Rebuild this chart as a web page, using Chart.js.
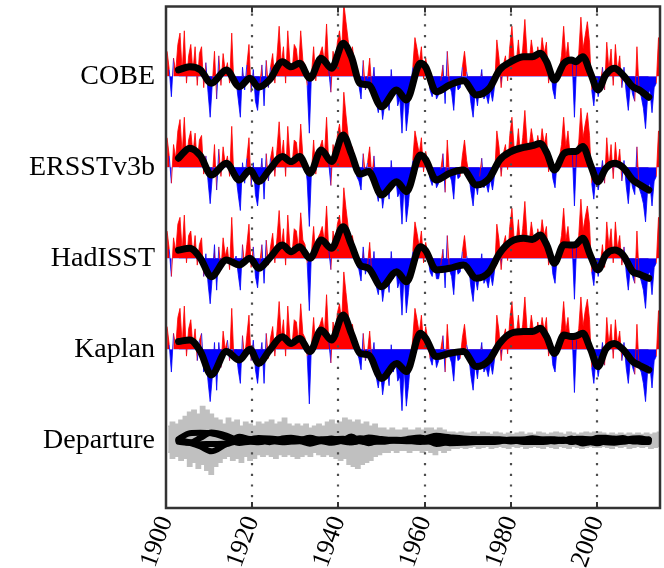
<!DOCTYPE html>
<html><head><meta charset="utf-8">
<script src="https://cdn.jsdelivr.net/npm/chart.js@4/dist/chart.umd.min.js"></script>
<style>html,body{margin:0;padding:0;background:#fff}#wrap{width:664px;height:568px;position:relative}</style>
</head><body><div id="wrap"><canvas id="c" width="664" height="568"></canvas></div>
<script>
// ---------------- DATA ----------------
const rowNames = ['COBE', 'ERSSTv3b', 'HadISST', 'Kaplan', 'Departure'];
const rowOffsets = [4, 3, 2, 1, 0];
const xTicks = [1900, 1920, 1940, 1960, 1980, 2000];
const firstYear = 1900; // half-year samples start here

// PDO index, two values per year (first half, second half), 1900-2014
const cobe = [
 1.1,0.3, -0.9,0.8, 0.2,1.4, 1.9,0.2, 2.0,-0.3,
 0.9,1.4, 0.2,1.3, -0.4,1.0, 1.3,-0.5, 0.6,-0.7,
 -1.8,-0.3, 1.1,-1.0, 0.9,-0.4, 1.0,0.2, 0.6,-0.3,
 1.9,-0.4, -0.2,-1.0, -1.8,0.4, -0.6,0.5, 1.4,-0.7,
 0.3,-1.1, -1.5,-0.4, 0.5,-1.3, 0.7,-0.5, 0.4,1.0,
 -0.3,0.9, 2.2,0.5, 1.3,-0.3, 2.0,0.6, 0.2,1.4,
 1.2,0.3, 2.0,0.7, 0.5,-0.4, -2.5,0.1, 1.3,-0.2,
 0.8,1.0, 1.3,0.6, 2.3,0.3, -0.7,1.1, 0.4,1.5,
 2.0,1.1, 3.2,2.4, 1.6,0.9, 1.3,0.5, 0.3,-0.4,
 -1.0,0.7, -0.6,-0.1, 0.8,-0.6, 0.4,-1.1, -1.6,-0.8,
 -1.9,-1.2, -0.6,-1.5, 0.3,-0.9, -0.2,-1.3, -1.0,-2.5,
 -0.6,-2.4, -1.5,-0.5, 0.4,1.7, 1.2,0.6, 1.3,-0.1,
 0.8,0.2, -0.6,-0.9, -0.3,-1.0, -0.8,-0.2, 0.5,-1.2,
 1.1,-0.4, -0.7,-1.5, -0.1,-0.6, -0.5,0.4, 1.1,0.2,
 -0.3,-1.2, -1.8,-0.6, -1.3,-0.4, 0.3,-1.0, -0.8,-1.2,
 -0.6,-1.1, -0.4,1.6, 0.8,-0.5, 0.5,0.9, -0.2,1.3,
 2.2,0.8, 0.6,1.6, 0.4,1.2, 2.5,1.0, 0.6,1.6,
 0.9,0.4, 1.3,0.7, 1.7,1.0, 1.5,-0.3, 0.4,-0.6,
 -1.0,0.2, 0.3,0.9, 2.2,0.8, 1.5,0.4, 0.6,-1.8,
 0.5,1.0, 2.6,1.2, 1.8,2.4, 1.5,-0.6, -1.3,-0.2,
 -0.9,-0.4, 0.4,-0.6, 1.5,0.3, 1.2,-0.4, 1.4,0.2,
 0.9,-0.5, 0.4,-0.7, -1.5,-0.3, -0.8,-1.1, 1.3,-0.6,
 -0.9,-1.4, -2.3,-0.8, -0.6,-1.6, -0.5,-0.3, 1.7,1.2
];
const ersst = [
 1.3,0.5, -0.7,1.0, 0.4,1.6, 2.1,0.6, 2.2,0.3,
 1.2,1.6, 0.6,1.5, 0.2,1.2, 1.4,-0.3, 0.5,-0.6,
 -1.6,-0.4, 1.0,-1.0, 0.8,-0.4, 0.9,0.1, 0.5,-0.4,
 1.8,-0.5, -0.4,-1.2, -1.9,0.2, -0.7,0.4, 1.3,-0.8,
 0.2,-1.2, -1.7,-0.6, 0.4,-1.4, 0.6,-0.6, 0.4,0.9,
 -0.4,0.8, 2.0,0.4, 1.2,-0.4, 1.8,0.4, 0.1,1.2,
 1.1,0.2, 1.9,0.5, 0.3,-0.6, -2.6,-0.2, 1.2,-0.3,
 0.7,0.9, 1.2,0.5, 2.2,0.2, -0.8,1.0, 0.3,1.4,
 1.9,1.0, 3.3,2.3, 1.4,0.6, 0.9,0.3, -0.4,-0.6,
 -1.0,0.6, -0.3,0.2, 0.9,-0.4, 0.5,-1.0, -1.5,-0.7,
 -1.8,-1.1, -0.5,-1.4, 0.3,-0.9, -0.3,-1.3, -1.1,-2.5,
 -0.7,-2.4, -1.6,-0.5, 0.3,1.6, 1.1,0.6, 1.3,-0.2,
 0.7,0.1, -0.5,-0.8, -0.2,-0.9, -0.7,-0.1, 0.6,-1.1,
 1.2,-0.3, -0.6,-1.4, 0.0,-0.5, -0.4,0.5, 1.2,0.3,
 -0.3,-1.1, -1.7,-0.6, -1.2,-0.4, 0.4,-0.9, -0.7,-1.1,
 -0.5,-1.0, -0.3,1.6, 0.9,-0.4, 0.6,1.0, -0.1,1.4,
 2.2,0.9, 0.7,1.7, 0.5,1.3, 2.5,1.1, 0.9,1.7,
 1.1,0.6, 1.4,0.8, 1.7,1.0, 1.5,-0.2, 0.4,-0.5,
 -0.9,0.3, 0.4,1.0, 2.2,0.9, 1.6,0.5, 0.7,-1.7,
 0.6,1.1, 2.6,1.3, 1.9,2.4, 1.4,-0.7, -1.4,-0.3,
 -1.0,-0.5, 0.3,-0.7, 1.3,0.0, 1.0,-0.5, 1.1,0.0,
 0.8,-0.6, 0.3,-0.8, -1.6,-0.4, -0.9,-1.2, 0.9,-0.9,
 -1.2,-1.6, -2.4,-0.9, -0.7,-1.7, -0.6,-0.4, 1.6,1.1
];
const hadisst = [
 1.2,0.4, -0.8,0.9, 0.3,1.5, 1.8,0.3, 1.9,-0.2,
 1.0,1.2, 0.1,1.0, -0.3,0.6, 0.9,-0.8, 0.2,-1.1,
 -2.0,-0.8, 0.6,-1.4, 0.5,-0.5, 0.9,0.1, 0.5,-0.5,
 1.8,-0.3, 0.1,-0.7, -1.4,0.6, -0.3,0.6, 1.5,-0.4,
 0.5,-0.8, -1.3,-0.2, 0.6,-1.1, 0.8,-0.3, 0.5,1.1,
 -0.2,0.9, 2.1,0.5, 1.3,-0.3, 1.9,0.5, 0.2,1.3,
 1.2,0.4, 2.0,0.8, 0.6,-0.2, -2.3,0.3, 1.4,0.0,
 0.9,1.1, 1.4,0.7, 2.3,0.4, -0.5,1.2, 0.5,1.5,
 1.9,1.0, 3.1,2.2, 1.4,0.6, 1.0,0.3, -0.3,-0.5,
 -1.0,0.5, -0.7,-0.3, 0.7,-0.7, 0.3,-1.2, -1.6,-0.8,
 -1.9,-1.2, -0.6,-1.5, 0.3,-0.9, -0.2,-1.3, -1.0,-2.5,
 -0.6,-2.4, -1.5,-0.5, 0.3,1.6, 1.1,0.5, 1.2,-0.2,
 0.7,0.1, -0.6,-0.8, -0.2,-0.9, -0.9,-0.3, 0.4,-1.3,
 1.0,-0.5, -0.8,-1.6, -0.2,-0.7, -0.6,0.3, 1.0,0.1,
 -0.4,-1.3, -1.9,-0.8, -1.4,-0.6, 0.2,-1.1, -0.9,-1.3,
 -0.7,-1.2, -0.5,1.5, 0.8,-0.5, 0.6,1.0, -0.1,1.4,
 2.2,0.9, 0.7,1.7, 0.5,1.3, 2.5,1.0, 0.7,1.6,
 0.9,0.5, 1.3,0.8, 1.7,1.0, 1.4,-0.3, 0.3,-0.7,
 -1.1,0.1, 0.4,1.0, 2.2,0.8, 1.4,0.4, 0.5,-1.8,
 0.5,1.0, 2.6,1.2, 1.8,2.3, 1.5,-0.6, -1.2,-0.1,
 -0.8,-0.3, 0.6,-0.4, 1.6,0.5, 1.3,-0.2, 1.6,0.4,
 1.0,-0.3, 0.5,-0.6, -1.4,-0.3, -0.8,-1.1, 1.2,-0.7,
 -1.0,-1.4, -2.2,-0.7, -0.6,-1.6, -0.4,-0.2, 1.8,1.2
];
const kaplan = [
 1.0,0.2, -1.0,0.7, 0.1,1.4, 1.8,0.2, 1.9,-0.3,
 0.9,1.3, 0.1,0.9, -0.5,0.4, 0.7,-1.0, -0.3,-1.4,
 -2.3,-1.2, 0.3,-1.8, 0.3,-0.8, 0.8,0.0, 0.4,-0.5,
 1.8,-0.4, 0.0,-0.9, -1.5,0.6, -0.4,0.6, 1.5,-0.5,
 0.4,-0.9, -1.5,-0.5, 0.3,-1.5, 0.7,-0.4, 0.5,1.0,
 -0.3,0.8, 2.1,0.5, 1.3,-0.3, 1.9,0.5, 0.2,1.3,
 1.2,0.3, 2.0,0.7, 0.5,-0.3, -2.4,0.2, 1.4,0.0,
 0.9,1.1, 1.4,0.7, 2.4,0.4, -0.6,1.2, 0.5,1.6,
 2.0,1.2, 3.4,2.5, 1.6,0.8, 1.1,0.4, -0.1,-0.4,
 -0.9,0.7, -0.5,-0.1, 0.8,-0.5, 0.3,-1.2, -1.7,-0.9,
 -2.0,-1.3, -0.7,-1.6, 0.2,-1.0, -0.3,-1.4, -1.2,-2.7,
 -0.8,-2.5, -1.6,-0.5, 0.5,1.8, 1.3,0.7, 1.5,0.2,
 1.0,0.4, -0.4,-0.7, 0.0,-0.8, -0.5,0.0, 0.6,-1.0,
 1.1,-0.3, -0.6,-1.4, 0.0,-0.5, -0.4,0.5, 1.1,0.2,
 -0.3,-1.2, -1.8,-0.6, -1.3,-0.4, 0.3,-1.0, -0.8,-1.2,
 -0.6,-1.1, -0.4,1.5, 0.8,-0.5, 0.5,0.9, -0.2,1.3,
 2.1,0.8, 0.6,1.5, 0.4,1.1, 2.3,0.9, 0.6,1.5,
 0.8,0.4, 1.2,0.6, 1.4,0.8, 1.4,-0.3, 0.3,-0.7,
 -1.0,0.1, 0.3,0.9, 2.1,0.8, 1.4,0.3, 0.5,-1.9,
 0.4,0.9, 2.3,1.0, 1.7,2.2, 1.3,-0.8, -1.5,-0.4,
 -1.2,-0.6, 0.3,-0.7, 1.4,0.2, 1.1,-0.4, 1.3,0.2,
 0.8,-0.5, 0.3,-0.8, -1.5,-0.4, -0.8,-1.1, 1.1,-0.8,
 -1.0,-1.5, -2.3,-0.9, -0.7,-1.7, -0.5,-0.3, 1.7,1.2
];

// Smoothed (low-pass) index, read at these years
const smoothYears = [1902.9,1905.5,1908,1910.5,1914,1917,1919.5,1921.5,1924,1927,
 1929,1931,1933.4,1936,1938.4,1941.1,1943,1945,1947,1950,
 1953.5,1955.8,1959,1960.2,1962.7,1965.8,1969,1972,1975,1977.4,
 1980,1983,1985,1986.8,1988.3,1990.1,1992.3,1994,1995,1996.7,
 1998.5,2000.2,2002,2004,2006,2008.3,2009.8,2012];
const cobeSmooth = [0.28,0.42,0.28,-0.31,0.28,-0.46,-0.09,-0.48,-0.16,0.64,
 0.42,0.57,-0.09,0.79,0.35,1.45,0.86,-0.31,-0.38,-1.34,
 -0.60,-1.04,0.57,0.42,-0.68,-0.38,-0.20,-0.82,-0.53,0.28,
 0.64,0.86,0.86,1.01,0.64,-0.16,0.57,0.72,0.64,0.86,
 0.13,-0.60,0.06,0.35,0.06,-0.46,-0.60,-0.92];
const ersstSmooth = [0.40,0.84,0.50,-0.34,0.18,-0.56,-0.12,-0.63,-0.10,0.47,
 0.25,0.47,-0.26,0.76,0.25,1.42,0.60,-0.30,-0.19,-1.22,
 -0.63,-1.07,0.54,0.35,-0.56,-0.26,-0.12,-0.78,-0.48,0.32,
 0.69,0.88,0.95,1.05,0.65,-0.12,0.60,0.69,0.69,0.91,
 0.10,-0.63,-0.05,0.18,0.00,-0.56,-0.75,-1.00];
const hadisstSmooth = [0.36,0.44,0.00,-0.81,-0.07,-0.29,0.00,-0.44,0.00,0.58,
 0.29,0.51,0.00,0.80,0.44,1.39,0.60,-0.29,-0.44,-1.25,
 -0.59,-1.03,0.51,0.35,-0.51,-0.44,-0.29,-0.88,-0.59,0.22,
 0.73,0.88,0.83,1.02,0.60,-0.22,0.60,0.58,0.60,0.88,
 0.10,-0.51,0.15,0.36,0.15,-0.59,-0.70,-0.88];
const kaplanSmooth = [0.34,0.41,-0.10,-1.13,-0.10,-0.47,0.00,-0.62,-0.05,0.55,
 0.26,0.48,-0.10,0.85,0.41,1.51,0.70,-0.18,-0.25,-1.28,
 -0.62,-0.98,0.70,0.50,-0.32,-0.18,-0.10,-0.76,-0.47,0.26,
 0.70,0.78,0.78,0.92,0.55,-0.18,0.63,0.56,0.58,0.70,
 0.00,-0.76,0.00,0.26,0.00,-0.54,-0.70,-0.91];

// Departure spread (grey), annual max / min, 1900-2014
const depHi = [
 0.62,0.79,0.70,0.88,1.05,1.23,1.32,1.14,1.49,1.32,
 1.14,0.97,0.88,0.70,0.97,0.79,0.88,0.62,0.79,0.70,
 0.62,0.79,0.70,0.79,0.88,0.70,0.79,0.97,0.70,0.62,
 0.70,0.62,0.70,0.53,0.62,0.70,0.62,0.79,0.88,0.70,
 0.79,0.97,0.88,0.79,0.88,0.70,0.79,0.62,0.70,0.53,
 0.53,0.44,0.53,0.44,0.44,0.53,0.44,0.44,0.53,0.44,
 0.53,0.53,0.44,0.53,0.44,0.35,0.35,0.31,0.35,0.31,
 0.31,0.35,0.26,0.35,0.31,0.26,0.35,0.31,0.26,0.31,
 0.26,0.31,0.35,0.26,0.31,0.26,0.35,0.31,0.26,0.31,
 0.35,0.31,0.26,0.35,0.31,0.26,0.31,0.35,0.31,0.35,
 0.35,0.31,0.26,0.31,0.26,0.31,0.26,0.31,0.26,0.31,
 0.26,0.31,0.26,0.31,0.35
];
const depLo = [
 -0.53,-0.79,-0.70,-0.88,-0.79,-1.14,-0.97,-1.23,-1.05,-1.32,
 -1.49,-1.14,-0.97,-0.79,-0.70,-0.88,-0.79,-0.97,-0.70,-0.88,
 -0.79,-0.62,-0.70,-0.62,-0.70,-0.79,-0.62,-0.70,-0.62,-0.70,
 -0.79,-0.70,-0.62,-0.70,-0.53,-0.62,-0.70,-0.62,-0.70,-0.79,
 -0.88,-0.79,-1.05,-1.14,-1.23,-1.05,-0.97,-0.88,-0.70,-0.62,
 -0.53,-0.53,-0.44,-0.53,-0.44,-0.44,-0.53,-0.44,-0.44,-0.53,
 -0.44,-0.53,-0.62,-0.44,-0.53,-0.44,-0.35,-0.35,-0.31,-0.35,
 -0.31,-0.26,-0.35,-0.31,-0.26,-0.35,-0.31,-0.26,-0.31,-0.35,
 -0.26,-0.31,-0.26,-0.35,-0.31,-0.26,-0.31,-0.35,-0.26,-0.31,
 -0.35,-0.26,-0.31,-0.35,-0.26,-0.31,-0.35,-0.31,-0.26,-0.31,
 -0.31,-0.26,-0.31,-0.35,-0.26,-0.31,-0.26,-0.35,-0.31,-0.26,
 -0.31,-0.26,-0.35,-0.31,-0.26
];

// ---------------- BUILD ----------------
const SCALE = 0.25; // chart units per index unit
const RED = '#ff0000', BLUE = '#0000ff';
const series = [cobe, ersst, hadisst, kaplan];
const smooths = [cobeSmooth, ersstSmooth, hadisstSmooth, kaplanSmooth];
const halfYear = (vals, off) => vals.map((v, i) => ({x: firstYear + 0.25 + 0.5 * i, y: off + SCALE * v}));
const annual = (vals, off) => vals.map((v, i) => ({x: firstYear + 0.5 + i, y: off + SCALE * v}));
const smoothPts = (vals, off) => vals.map((v, i) => ({x: smoothYears[i], y: off + SCALE * v}));

// departure of each smoothed series from the four-dataset mean
const meanSmooth = smoothYears.map((_, i) => smooths.reduce((s, a) => s + a[i], 0) / smooths.length);
const departures = smooths.map(a => a.map((v, i) => v - meanSmooth[i]));

const datasets = [];
series.forEach((s, k) => {
  const off = rowOffsets[k];
  datasets.push({
    data: halfYear(s, off), borderWidth: 0.8, pointRadius: 0, tension: 0,
    borderColor: RED,
    segment: {borderColor: c => ((c.p0.parsed.y + c.p1.parsed.y) / 2 >= off ? RED : BLUE)},
    fill: {target: {value: off}, above: RED, below: BLUE}, order: 3
  });
  // dense core of the monthly values: area between baseline and the low-pass curve
  datasets.push({
    data: smoothPts(smooths[k], off), borderColor: 'rgba(0,0,0,0)', borderWidth: 0, pointRadius: 0,
    cubicInterpolationMode: 'monotone', fill: {target: {value: off}, above: RED, below: BLUE}, order: 3
  });
});
datasets.push({data: annual(depHi, 0), borderColor: '#c0c0c0', backgroundColor: '#c0c0c0', borderWidth: 1.5,
  stepped: 'middle', pointRadius: 0, fill: '+1', order: 2});
datasets.push({data: annual(depLo, 0), borderColor: '#c0c0c0', borderWidth: 1.5,
  stepped: 'middle', pointRadius: 0, fill: false, order: 2});
smooths.forEach((s, k) => datasets.push({
  data: smoothPts(s, rowOffsets[k]), borderColor: '#000', borderWidth: 7, pointRadius: 0, fill: false,
  cubicInterpolationMode: 'monotone', borderCapStyle: 'round', borderJoinStyle: 'round', order: 1
}));
departures.forEach(d => datasets.push({
  data: smoothPts(d, 0), borderColor: '#000', borderWidth: 6, pointRadius: 0, fill: false,
  cubicInterpolationMode: 'monotone', borderCapStyle: 'round', borderJoinStyle: 'round', order: 1
}));

const frameGrid = {
  id: 'frameGrid',
  beforeDatasetsDraw(chart) { chart.$gridDone = false; },
  beforeDatasetDraw(chart, args) {
    const ds = chart.data.datasets[args.index];
    if (ds.order === 1 && !chart.$gridDone) {
      chart.$gridDone = true;
      const {ctx, chartArea: a, scales: {x}} = chart;
      ctx.save();
      ctx.strokeStyle = '#4d4d4d'; ctx.lineWidth = 2.2; ctx.setLineDash([2.2, 8.5]);
      xTicks.forEach(v => {
        if (v === xTicks[0]) return;
        const px = Math.round(x.getPixelForValue(v));
        ctx.beginPath(); ctx.moveTo(px, a.bottom); ctx.lineTo(px, a.top); ctx.stroke();
      });
      ctx.restore();
    }
  },
  afterDraw(chart) {
    const {ctx, chartArea: a, scales: {x}} = chart;
    ctx.save();
    ctx.strokeStyle = '#333'; ctx.lineWidth = 2.5;
    ctx.strokeRect(a.left, a.top, a.right - a.left, a.bottom - a.top);
    ctx.lineWidth = 2; ctx.beginPath();
    xTicks.forEach(v => {
      const px = Math.round(x.getPixelForValue(v));
      ctx.moveTo(px, a.top); ctx.lineTo(px, a.top + 6);
      ctx.moveTo(px, a.bottom); ctx.lineTo(px, a.bottom - 6);
    });
    ctx.stroke();
    ctx.restore();
  }
};

const serif = '"Liberation Serif", "Times New Roman", serif';
new Chart(document.getElementById('c'), {
  type: 'line',
  data: {datasets},
  options: {
    responsive: false, devicePixelRatio: 1, animation: false, events: [],
    layout: {padding: {top: 6.5, right: 4, left: 0, bottom: 0}},
    plugins: {legend: {display: false}, tooltip: {enabled: false}},
    scales: {
      x: {
        type: 'linear', min: 1900, max: 2014.6,
        afterBuildTicks: ax => { ax.ticks = xTicks.map(v => ({value: v})); },
        afterFit: ax => { ax.height = 60; ax.paddingLeft = 0; ax.paddingRight = 0; },
        grid: {display: false, drawTicks: false}, border: {display: false},
        ticks: {autoSkip: false, minRotation: 70, maxRotation: 70, padding: 4, color: '#000',
          font: {family: serif, size: 26}, callback: v => String(v)}
      },
      y: {
        type: 'linear', min: -0.744, max: 4.767,
        afterBuildTicks: ax => { ax.ticks = rowOffsets.map(v => ({value: v})); },
        afterFit: ax => { ax.width = 166; ax.paddingTop = 0; ax.paddingBottom = 0; },
        grid: {display: false, drawTicks: false}, border: {display: false},
        ticks: {autoSkip: false, padding: 11, color: '#000', font: {family: serif, size: 28},
          callback: v => rowNames[rowOffsets.indexOf(v)]}
      }
    }
  },
  plugins: [frameGrid]
});
</script>
</body></html>
